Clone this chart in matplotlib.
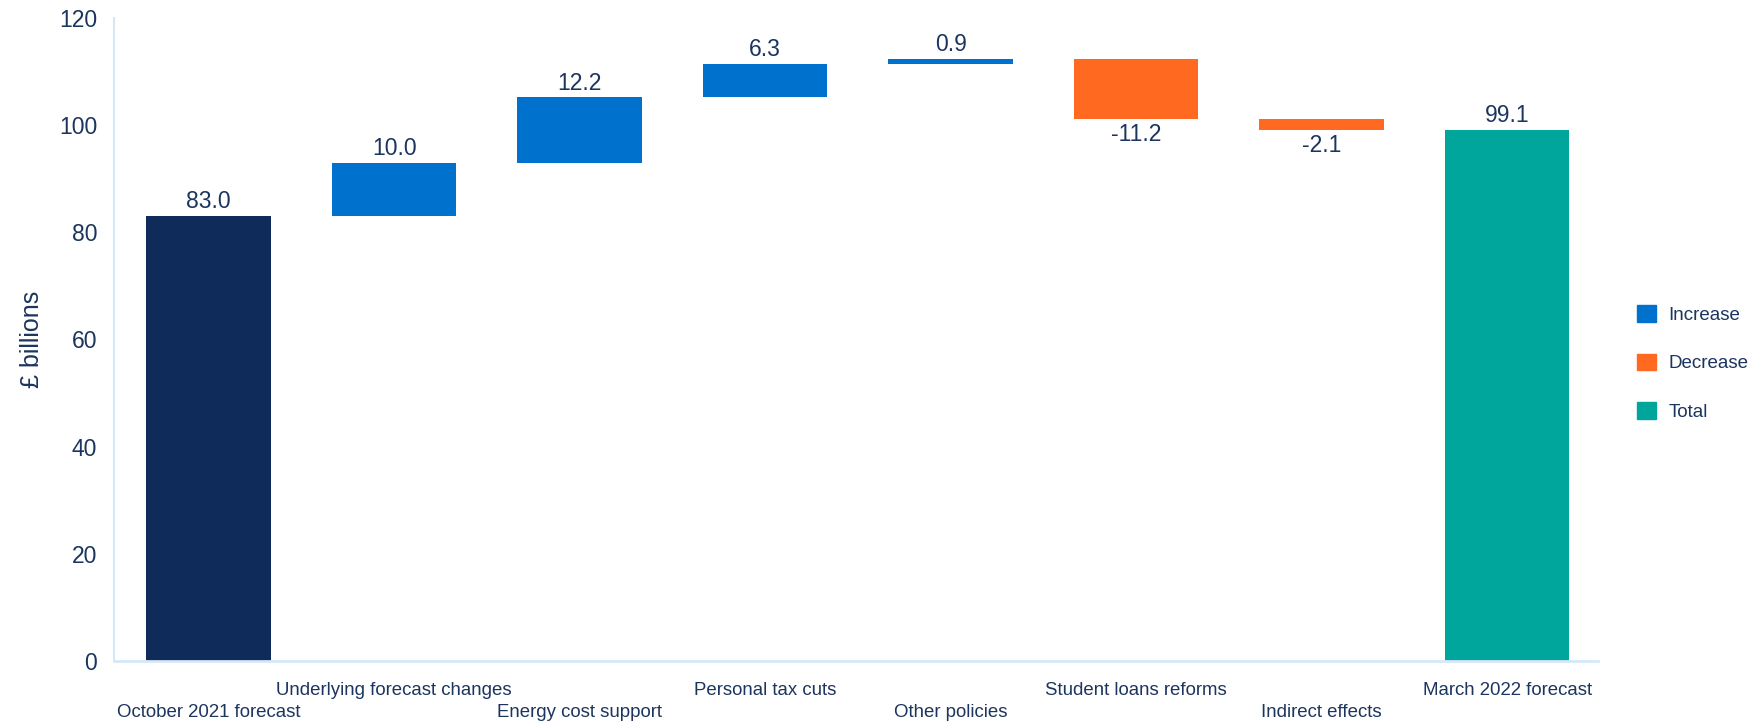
import matplotlib
matplotlib.use("Agg")
import matplotlib.pyplot as plt
from matplotlib.patches import Patch
import numpy as np

plt.rcParams['font.family'] = ['Liberation Sans', 'DejaVu Sans']

categories = ["October 2021 forecast", "Underlying forecast changes", "Energy cost support",
              "Personal tax cuts", "Other policies", "Student loans reforms",
              "Indirect effects", "March 2022 forecast"]
values = [83.0, 10.0, 12.2, 6.3, 0.9, -11.2, -2.1, 99.1]
kinds = ["start", "change", "change", "change", "change", "change", "change", "total"]
yticks = [0, 20, 40, 60, 80, 100, 120]

TEXT = "#1C355E"
NAVY = "#0E2B5A"
BLUE = "#0072CE"
ORANGE = "#FF6A20"
TEAL = "#00A69C"
AXIS = "#D6E8F8"

fig = plt.figure(figsize=(17.62, 7.23), dpi=100)
ax = fig.add_axes([114/1762, 1-661/723, (1598-114)/1762, (661-18)/723])

x = np.arange(len(categories))
running = 0.0
for i, (v, k) in enumerate(zip(values, kinds)):
    if k == "start":
        bottom, height, color = 0, v, NAVY
        running = v
    elif k == "total":
        bottom, height, color = 0, v, TEAL
    else:
        bottom = running if v >= 0 else running + v
        height = abs(v)
        color = BLUE if v >= 0 else ORANGE
        running += v
    ax.bar(x[i], height, bottom=bottom, width=0.67, color=color, linewidth=0)
    if v >= 0:
        ax.annotate(f"{v:.1f}", (x[i], bottom + height), xytext=(0, 2),
                    textcoords="offset points", ha="center", va="bottom",
                    fontsize=16.5, color=TEXT)
    else:
        ax.annotate(f"{v:.1f}", (x[i], bottom), xytext=(0, -3),
                    textcoords="offset points", ha="center", va="top",
                    fontsize=16.5, color=TEXT)

ax.set_xlim(-0.51, 7.49)
ax.set_ylim(0, 120)
ax.set_yticks(yticks)
ax.tick_params(axis='y', length=0, pad=12, labelsize=16.5, labelcolor=TEXT)
ax.set_xticks(x)
ax.set_xticklabels(categories, fontsize=13.4, color=TEXT)
ax.tick_params(axis='x', length=0)
for i, t in enumerate(ax.xaxis.get_major_ticks()):
    t.set_pad(15 if i % 2 == 1 else 31)

for s in ["top", "right"]:
    ax.spines[s].set_visible(False)
ax.spines["left"].set_color(AXIS)
ax.spines["bottom"].set_color(AXIS)
ax.spines["left"].set_linewidth(1.5)
ax.spines["bottom"].set_linewidth(2)

ax.set_ylabel("£ billions", fontsize=18, color=TEXT)
ax.yaxis.set_label_coords(-0.047, 0.5)

handles = [Patch(color=BLUE, label="Increase"),
           Patch(color=ORANGE, label="Decrease"),
           Patch(color=TEAL, label="Total")]
leg = fig.legend(handles=handles, loc="center left",
                 bbox_to_anchor=(1637/1762, 1-363/723), frameon=False,
                 fontsize=13.5, handlelength=1.0, handleheight=1.0,
                 handletextpad=0.67, labelspacing=1.6, borderpad=0, borderaxespad=0)
for t in leg.get_texts():
    t.set_color(TEXT)

fig.savefig("out.png", dpi=100)
